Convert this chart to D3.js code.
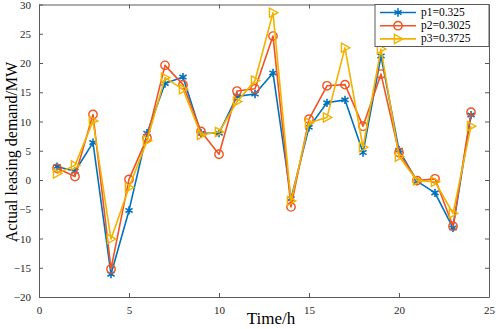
<!DOCTYPE html>
<html>
<head>
<meta charset="utf-8">
<script src="https://cdn.jsdelivr.net/npm/d3@7"></script>
<style>
  body { margin: 0; background: #fff; }
  svg { display: block; }
  svg text { font-family: "Times New Roman", "Liberation Serif", "DejaVu Serif", serif; }
  .tick text { font-size: 11px; fill: #262626; }
</style>
</head>
<body>
<div id="chart"></div>
<script>
/* DATA */
const hours = d3.range(1, 25);
const p1 = [2.3, 1.5, 6.4, -16.1, -5.2, 8.0, 16.5, 17.6, 8.0, 8.0, 14.3, 14.7, 18.3, -3.2, 9.0, 13.2, 13.7, 4.7, 21.2, 5.1, -0.2, -2.2, -8.2, 11.1];
const p2 = [2.0, 0.6, 11.2, -15.2, 0.1, 7.2, 19.6, 16.3, 8.3, 4.4, 15.2, 15.6, 24.6, -4.6, 10.4, 16.1, 16.3, 9.2, 18.1, 4.7, -0.1, 0.2, -7.9, 11.6];
const p3 = [1.1, 2.5, 10.1, -10.1, -1.3, 6.7, 17.5, 15.5, 7.7, 8.2, 13.4, 17.0, 28.6, -3.6, 9.8, 10.7, 22.6, 5.6, 22.4, 4.0, -0.1, -0.3, -5.7, 9.2];
const seriesNames = ["p1=0.325", "p2=0.3025", "p3=0.3725"];
const xTicks = [0, 5, 10, 15, 20, 25];
const yTicks = [-20, -15, -10, -5, 0, 5, 10, 15, 20, 25, 30];

const width = 498, height = 329;
const margin = { top: 4.5, right: 9, bottom: 32, left: 39 };
const colors = ["#0072BD", "#EE5522", "#F2B200"];

const series = [p1, p2, p3].map((vals, i) => ({
  name: seriesNames[i],
  color: colors[i],
  marker: ["star", "circle", "tri"][i],
  points: vals.map((v, j) => ({ x: hours[j], y: v }))
}));

const svg = d3.select("#chart").append("svg")
  .attr("width", width)
  .attr("height", height);

const xScale = d3.scaleLinear().domain([0, 25]).range([margin.left, width - margin.right]);
const yScale = d3.scaleLinear().domain([-20, 30]).range([height - margin.bottom, margin.top]);

// axes, ticks pointing inwards on all four sides
const axisColor = "#5a5a5a";
function styleAxis(g, hideText) {
  g.select(".domain").attr("stroke", axisColor);
  g.selectAll(".tick line").attr("stroke", axisColor);
  if (hideText) g.selectAll(".tick text").remove();
}
// d3 axes put font-family on the group, drop it so the css serif applies
function clearFont(g) { g.attr("font-family", null).attr("font-size", null); }

svg.append("g")
  .attr("transform", `translate(0, ${yScale(-20)})`)
  .call(d3.axisBottom(xScale).tickValues(xTicks).tickSizeInner(-4).tickSizeOuter(0).tickPadding(9))
  .call(clearFont)
  .call(g => styleAxis(g, false));

svg.append("g")
  .attr("transform", `translate(0, ${yScale(30)})`)
  .call(d3.axisTop(xScale).tickValues(xTicks).tickSizeInner(-4).tickSizeOuter(0))
  .call(g => styleAxis(g, true));

svg.append("g")
  .attr("transform", `translate(${xScale(0)}, 0)`)
  .call(d3.axisLeft(yScale).tickValues(yTicks).tickSizeInner(-4).tickSizeOuter(0).tickPadding(8))
  .call(clearFont)
  .call(g => styleAxis(g, false));

svg.append("g")
  .attr("transform", `translate(${xScale(25)}, 0)`)
  .call(d3.axisRight(yScale).tickValues(yTicks).tickSizeInner(-4).tickSizeOuter(0))
  .call(g => styleAxis(g, true));

// axis titles
svg.append("text")
  .attr("x", (xScale(0) + xScale(25)) / 2 + 7)
  .attr("y", height - 5)
  .attr("text-anchor", "middle")
  .attr("font-size", 17)
  .attr("fill", "#000")
  .text("Time/h");

svg.append("text")
  .attr("transform", `translate(13, 152) rotate(-90)`)
  .attr("text-anchor", "middle")
  .attr("dominant-baseline", "middle")
  .attr("font-size", 16)
  .attr("fill", "#000")
  .text("Actual leasing demand/MW");

// markers
function drawMarker(sel, type, color) {
  if (type === "star") {
    sel.append("path")
      .attr("d", d3.symbol(d3.symbolAsterisk, 48))
      .attr("fill", "none")
      .attr("stroke", color)
      .attr("stroke-width", 1.6);
  } else if (type === "circle") {
    sel.append("circle")
      .attr("r", 4.2)
      .attr("fill", "none")
      .attr("stroke", color)
      .attr("stroke-width", 1.4);
  } else {
    sel.append("path")
      .attr("d", "M-3.6,-4.6L4.8,0L-3.6,4.6Z")
      .attr("fill", "none")
      .attr("stroke", color)
      .attr("stroke-width", 1.4);
  }
}

const line = d3.line().x(d => xScale(d.x)).y(d => yScale(d.y));

series.forEach(s => {
  svg.append("path")
    .datum(s.points)
    .attr("d", line)
    .attr("fill", "none")
    .attr("stroke", s.color)
    .attr("stroke-width", 1.6)
    .attr("stroke-linejoin", "round");

  svg.append("g").selectAll("g")
    .data(s.points)
    .join("g")
    .attr("transform", d => `translate(${xScale(d.x)}, ${yScale(d.y)})`)
    .each(function () { drawMarker(d3.select(this), s.marker, s.color); });
});

// legend
const legend = svg.append("g").attr("transform", "translate(375, 4.5)");
legend.append("rect")
  .attr("width", xScale(25) - 375)
  .attr("height", 42)
  .attr("fill", "#fff")
  .attr("stroke", axisColor);

series.forEach((s, i) => {
  const row = legend.append("g").attr("transform", `translate(0, ${8 + i * 13.2})`);
  row.append("line")
    .attr("x1", 5).attr("x2", 41)
    .attr("stroke", s.color)
    .attr("stroke-width", 1.6);
  drawMarker(row.append("g").attr("transform", "translate(23, 0)"), s.marker, s.color);
  row.append("text")
    .attr("x", 46)
    .attr("y", 0.5)
    .attr("dominant-baseline", "middle")
    .attr("font-size", 11.5)
    .attr("fill", "#000")
    .text(s.name);
});
</script>
</body>
</html>
